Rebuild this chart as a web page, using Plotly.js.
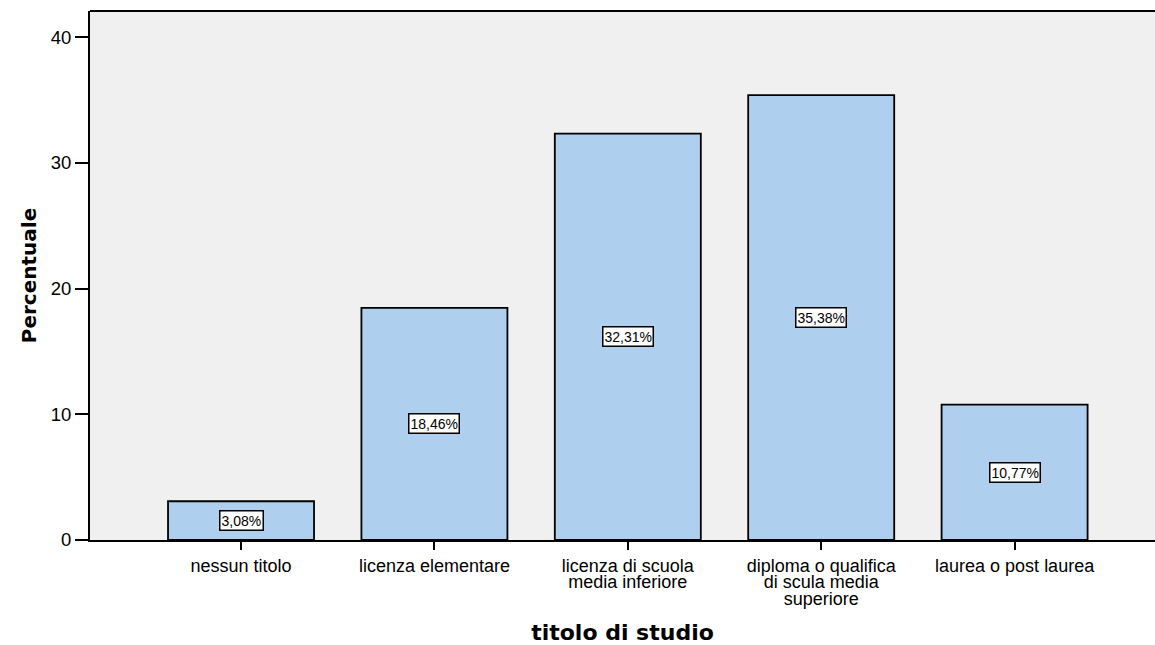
<!DOCTYPE html>
<html>
<head>
<meta charset="utf-8">
<script src="https://cdn.plot.ly/plotly-3.0.1.min.js"></script>
<style>html,body{margin:0;padding:0;background:#fff;}#chart{width:1155px;height:645px;}</style>
</head>
<body>
<div id="chart"></div>
<script>
var categories = ["nessun titolo", "licenza elementare", "licenza di scuola<br>media inferiore", "diploma o qualifica<br>di scula media<br>superiore", "laurea o post laurea"];
var percentages = [3.08, 18.46, 32.31, 35.38, 10.77];
var valueLabels = ["3,08%", "18,46%", "32,31%", "35,38%", "10,77%"];
var yTickValues = [0, 10, 20, 30, 40];

var FONT = "Arial, 'Liberation Sans', sans-serif";
var TITLE_FONT = "'DejaVu Sans', Arial, sans-serif";
var xIdx = categories.map(function(_, i){ return i; });

var trace = {
  type: "bar",
  x: xIdx,
  y: percentages,
  width: 0.755,
  marker: {color: "#aecfee", line: {color: "#000000", width: 1.8}},
  hoverinfo: "none"
};

var annotations = valueLabels.map(function(t, i){
  return {
    x: i, y: percentages[i] / 2, xref: "x", yref: "y",
    text: t, showarrow: false,
    font: {family: FONT, size: 14, color: "#000"},
    bgcolor: "#ffffff", bordercolor: "#000000", borderwidth: 1.5, borderpad: 1
  };
});

var layout = {
  width: 1155, height: 645,
  margin: {l: 90, r: 0, t: 11, b: 105},
  paper_bgcolor: "#ffffff",
  plot_bgcolor: "#f0f0f0",
  showlegend: false,
  font: {family: FONT, color: "#000"},
  xaxis: {
    range: [-0.781, 4.726],
    tickmode: "array", tickvals: xIdx, ticktext: categories,
    ticks: "outside", ticklen: 8, tickwidth: 2, tickcolor: "#000",
    showline: true, linecolor: "#000", linewidth: 2,
    showgrid: false, zeroline: false,
    tickfont: {family: FONT, size: 18, color: "#000"},
    automargin: false,
    title: {text: "<b>titolo di studio</b>", font: {family: TITLE_FONT, size: 22, color: "#000"}, standoff: 12}
  },
  yaxis: {
    range: [0, 42.07],
    tickmode: "array", tickvals: yTickValues,
    ticks: "outside", ticklen: 13, tickwidth: 2, tickcolor: "#000",
    showline: true, linecolor: "#000", linewidth: 2,
    showgrid: false, zeroline: false,
    tickfont: {family: FONT, size: 18.5, color: "#000"},
    automargin: false,
    title: {text: "<b>Percentuale</b>", font: {family: TITLE_FONT, size: 20, color: "#000"}, standoff: 9}
  },
  shapes: [
    {type: "line", xref: "paper", yref: "paper", x0: 0, x1: 1, y0: 1, y1: 1, line: {color: "#000", width: 2}}
  ],
  annotations: annotations
};

Plotly.newPlot("chart", [trace], layout, {staticPlot: true, displayModeBar: false}).then(function(gd){
  // tighten multi-line category label spacing to match the reference
  var spans = gd.querySelectorAll(".xtick text tspan.line");
  spans.forEach(function(s){
    var dy = parseFloat(s.getAttribute("dy"));
    if (!isNaN(dy) && dy !== 0) s.setAttribute("dy", (dy / 1.3 * 0.93) + "em");
  });
});
</script>
</body>
</html>
